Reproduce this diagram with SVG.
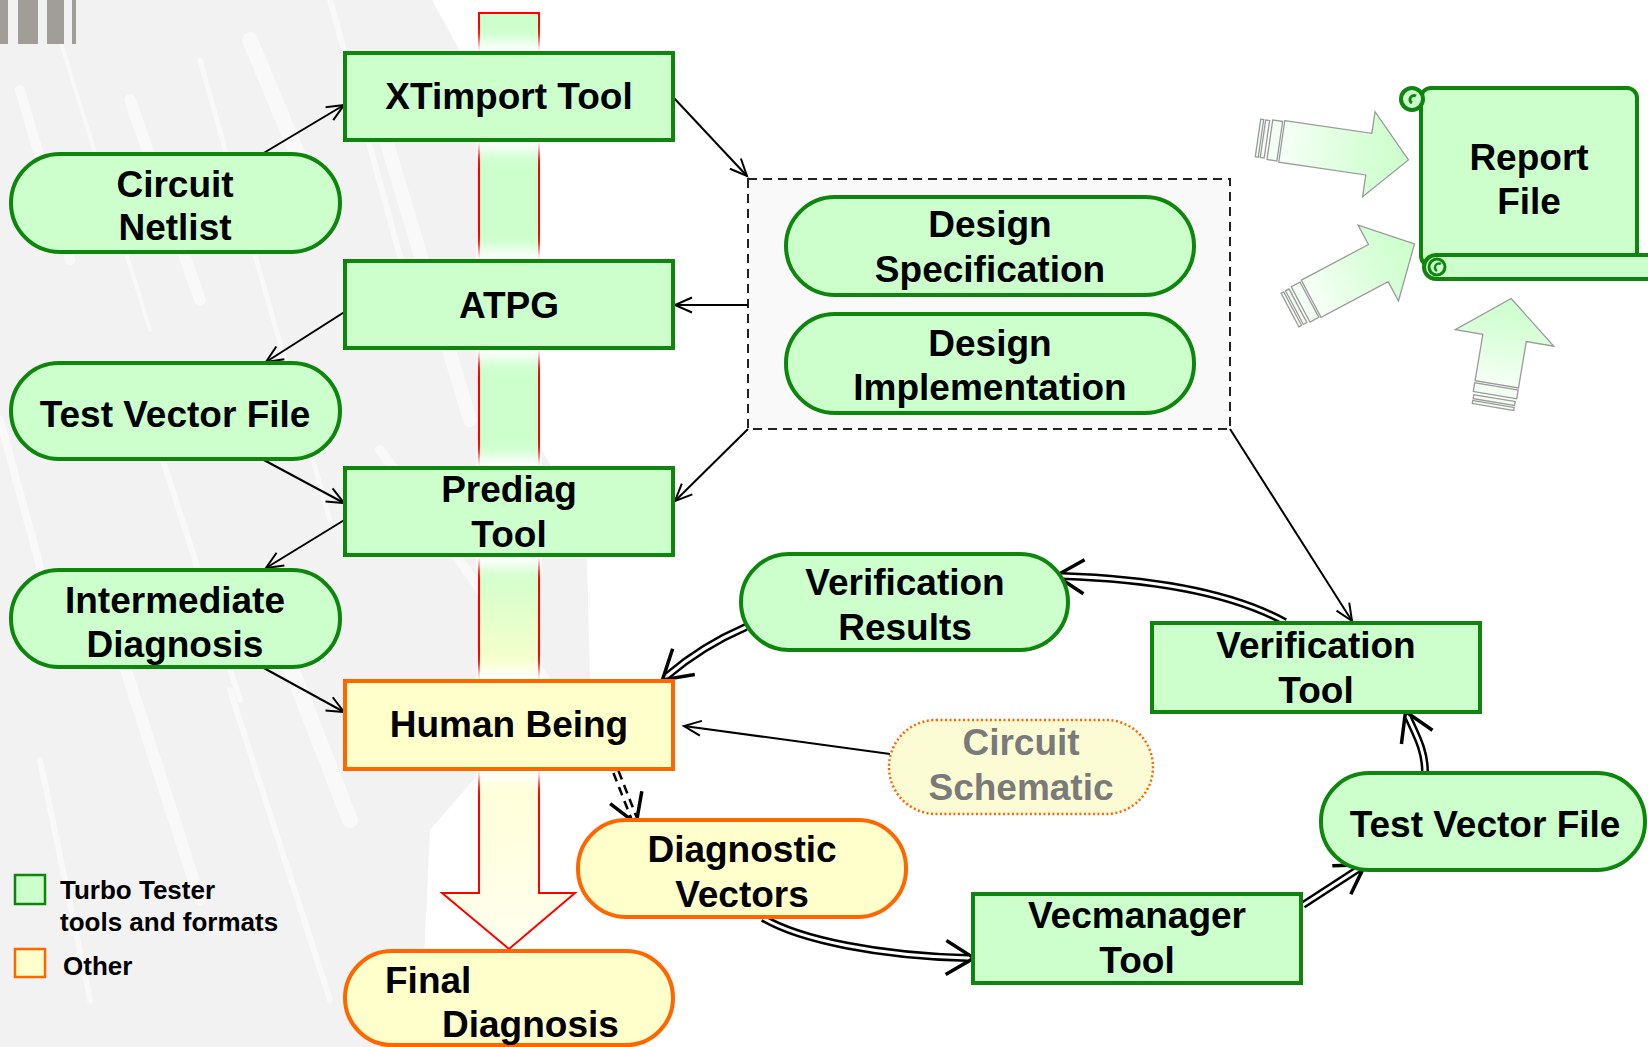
<svg xmlns="http://www.w3.org/2000/svg" width="1648" height="1047" viewBox="0 0 1648 1047">
  <defs>
    <style>
      .t{font-family:"Liberation Sans",Arial,sans-serif;font-weight:bold;font-size:37px;fill:#000;text-anchor:middle}
      .ts{text-anchor:start}
      .gray{fill:#7a7a7a}
      .g{fill:#ccffcc;stroke:#0e860e;stroke-width:4}
      .o{fill:#ffffcc;stroke:#ff6600;stroke-width:4}
      .ln{fill:none;stroke:#000;stroke-width:2}
      .dbl{fill:none;stroke:#000;stroke-width:8}
      .dblin{fill:none;stroke:#fff;stroke-width:3}
      .lg{font-family:"Liberation Sans",Arial,sans-serif;font-weight:bold;font-size:26px;fill:#000}
      .streak{stroke:#fff;fill:none;stroke-linecap:round;opacity:.5}
      .ba{stroke:#9a9a9a;stroke-width:1.3}
      .stripe{fill:#f2fff2}
      .halo{fill:#fff}
    </style>
    <marker id="ah" markerUnits="userSpaceOnUse" viewBox="-20 -10 24 20" refX="0" refY="0" markerWidth="24" markerHeight="20" orient="auto" overflow="visible">
      <path d="M-17,-7.5 L0,0 L-17,7.5" fill="none" stroke="#000" stroke-width="2"/>
    </marker>
    <marker id="ahd" markerUnits="userSpaceOnUse" viewBox="-30 -20 40 40" refX="0" refY="0" markerWidth="40" markerHeight="40" orient="auto" overflow="visible">
      <path d="M-22,-17 L6,0 L-22,17" fill="none" stroke="#000" stroke-width="3.5"/>
    </marker>
    <linearGradient id="bandGrad" gradientUnits="userSpaceOnUse" x1="0" y1="13" x2="0" y2="949">
      <stop offset="0" stop-color="#ccffcc"/>
      <stop offset="0.58" stop-color="#ccffcc"/>
      <stop offset="0.72" stop-color="#ffffcc"/>
      <stop offset="1" stop-color="#ffffee"/>
    </linearGradient>
    <linearGradient id="bag" x1="0" y1="0" x2="1" y2="0">
      <stop offset="0" stop-color="#f6fff6"/>
      <stop offset="0.6" stop-color="#d9ffd9"/>
      <stop offset="1" stop-color="#ccffcc"/>
    </linearGradient>
    <filter id="haloBlur" x="-5%" y="-60%" width="110%" height="220%">
      <feGaussianBlur stdDeviation="0 7"/>
    </filter>
  </defs>

  <!-- page background -->
  <rect x="0" y="0" width="1648" height="1047" fill="#fff"/>
  <polygon points="0,0 432,0 476,80 482,300 522,420 586,520 590,680 548,705 482,770 430,830 420,1047 0,1047" fill="#f2f2f2"/>
  <g id="texture">
    <line class="streak" x1="20" y1="90" x2="70" y2="260" stroke-width="10"/>
    <line class="streak" x1="60" y1="40" x2="150" y2="330" stroke-width="4"/>
    <line class="streak" x1="130" y1="100" x2="200" y2="300" stroke-width="12"/>
    <line class="streak" x1="200" y1="60" x2="330" y2="520" stroke-width="5"/>
    <line class="streak" x1="250" y1="40" x2="300" y2="160" stroke-width="16"/>
    <line class="streak" x1="330" y1="0" x2="420" y2="330" stroke-width="6"/>
    <line class="streak" x1="380" y1="120" x2="470" y2="420" stroke-width="14"/>
    <line class="streak" x1="0" y1="420" x2="60" y2="640" stroke-width="8"/>
    <line class="streak" x1="110" y1="620" x2="200" y2="900" stroke-width="12"/>
    <line class="streak" x1="230" y1="690" x2="330" y2="1000" stroke-width="6"/>
    <line class="streak" x1="280" y1="640" x2="350" y2="820" stroke-width="16"/>
    <line class="streak" x1="40" y1="760" x2="90" y2="1000" stroke-width="6"/>
    <line class="streak" x1="380" y1="450" x2="560" y2="700" stroke-width="10"/>
    <line class="streak" x1="150" y1="420" x2="240" y2="700" stroke-width="6"/>
  </g>

  <!-- corner bars -->
  <g id="corner-bars" fill="#a19d99">
    <rect x="0" y="0" width="8" height="44"/>
    <rect x="18" y="0" width="20" height="44"/>
    <rect x="47" y="0" width="17" height="44"/>
    <rect x="72" y="0" width="4" height="44"/>
  </g>

  <!-- process flow band -->
  <g id="flow-band">
    <path d="M479,13 H539 V893 H575 L509,949 L442,893 H479 Z" fill="url(#bandGrad)" stroke="#ff0000" stroke-width="2"/>
    <g filter="url(#haloBlur)">
      <rect class="halo" x="476" y="41" width="66" height="111"/>
      <rect class="halo" x="476" y="249" width="66" height="111"/>
      <rect class="halo" x="476" y="456" width="66" height="111"/>
      <rect class="halo" x="476" y="669" width="66" height="112"/>
    </g>
  </g>

  <!-- design data container -->
  <g id="design-group">
    <rect x="748" y="179" width="482" height="250" fill="#f9f9f9" stroke="#222" stroke-width="2" stroke-dasharray="9 6"/>
  </g>

  <!-- connectors -->
  <g id="connectors">
    <path class="ln" d="M262,154 L344,105" marker-end="url(#ah)"/>
    <path class="ln" d="M673,97 L747,176" marker-end="url(#ah)"/>
    <path class="ln" d="M748,305 L675,305" marker-end="url(#ah)"/>
    <path class="ln" d="M346,311 L266,362" marker-end="url(#ah)"/>
    <path class="ln" d="M262,459 L344,503" marker-end="url(#ah)"/>
    <path class="ln" d="M346,519 L266,568" marker-end="url(#ah)"/>
    <path class="ln" d="M262,667 L344,712" marker-end="url(#ah)"/>
    <path class="ln" d="M748,429 L675,501" marker-end="url(#ah)"/>
    <path class="ln" d="M1230,429 L1352,621" marker-end="url(#ah)"/>
    <path class="ln" d="M890,754 L684,726" marker-end="url(#ah)"/>

    <!-- double-line flows -->
    <path class="dbl" d="M1285,622 C1245,600 1180,580 1062,576" marker-end="url(#ahd)"/>
    <path class="dblin" d="M1285,622 C1245,600 1180,580 1062,576"/>
    <path class="dbl" d="M746,627 Q702,646 667,676" marker-end="url(#ahd)"/>
    <path class="dblin" d="M746,627 Q702,646 667,676"/>
    <path class="dbl" d="M763,918 C800,940 880,956 968,958" marker-end="url(#ahd)"/>
    <path class="dblin" d="M763,918 C800,940 880,956 968,958"/>
    <path class="dbl" d="M1303,905 L1360,868" marker-end="url(#ahd)"/>
    <path class="dblin" d="M1303,905 L1360,868"/>
    <path class="dbl" d="M1425,772 C1425,750 1416,735 1408,717" marker-end="url(#ahd)"/>
    <path class="dblin" d="M1425,772 C1425,750 1416,735 1408,717"/>
    <path class="dbl" d="M616,772 L634,818" stroke-width="7" stroke-dasharray="9 6" marker-end="url(#ahd)"/>
    <path class="dblin" d="M616,772 L634,818" stroke-width="2.5"/>
  </g>

  <!-- nodes -->
  <g id="xtimport-tool">
    <rect class="g" x="345" y="53" width="328" height="87"/>
    <text class="t" x="509" y="109">XTimport Tool</text>
  </g>
  <g id="circuit-netlist">
    <rect class="g" x="11" y="154" width="329" height="98" rx="49"/>
    <text class="t" x="175" y="197">Circuit</text>
    <text class="t" x="175" y="240">Netlist</text>
  </g>
  <g id="atpg">
    <rect class="g" x="345" y="261" width="328" height="87"/>
    <text class="t" x="509" y="318">ATPG</text>
  </g>
  <g id="test-vector-file-left">
    <rect class="g" x="11" y="363" width="329" height="96" rx="48"/>
    <text class="t" x="175" y="427">Test Vector File</text>
  </g>
  <g id="prediag-tool">
    <rect class="g" x="345" y="468" width="328" height="87"/>
    <text class="t" x="509" y="502">Prediag</text>
    <text class="t" x="509" y="547">Tool</text>
  </g>
  <g id="intermediate-diagnosis">
    <rect class="g" x="11" y="570" width="329" height="97" rx="48"/>
    <text class="t" x="175" y="613">Intermediate</text>
    <text class="t" x="175" y="657">Diagnosis</text>
  </g>
  <g id="human-being">
    <rect class="o" x="345" y="681" width="328" height="88"/>
    <text class="t" x="509" y="737">Human Being</text>
  </g>
  <g id="final-diagnosis">
    <rect class="o" x="345" y="951" width="328" height="94" rx="47"/>
    <text class="t ts" x="385" y="993">Final</text>
    <text class="t ts" x="442" y="1037">Diagnosis</text>
  </g>
  <g id="design-specification">
    <rect class="g" x="786" y="197" width="408" height="98" rx="49"/>
    <text class="t" x="990" y="237">Design</text>
    <text class="t" x="990" y="282">Specification</text>
  </g>
  <g id="design-implementation">
    <rect class="g" x="786" y="314" width="408" height="99" rx="49"/>
    <text class="t" x="990" y="356">Design</text>
    <text class="t" x="990" y="400">Implementation</text>
  </g>
  <g id="verification-results">
    <rect class="g" x="741" y="554" width="327" height="96" rx="48"/>
    <text class="t" x="905" y="595">Verification</text>
    <text class="t" x="905" y="640">Results</text>
  </g>
  <g id="verification-tool">
    <rect class="g" x="1152" y="623" width="328" height="89"/>
    <text class="t" x="1316" y="658">Verification</text>
    <text class="t" x="1316" y="703">Tool</text>
  </g>
  <g id="circuit-schematic">
    <rect x="889" y="720" width="264" height="94" rx="47" fill="#fcfcd4" stroke="#ff6600" stroke-width="2.5" stroke-dasharray="2 2.5"/>
    <text class="t gray" x="1021" y="755">Circuit</text>
    <text class="t gray" x="1021" y="800">Schematic</text>
  </g>
  <g id="test-vector-file-right">
    <rect class="g" x="1321" y="773" width="324" height="97" rx="48"/>
    <text class="t" x="1485" y="837">Test Vector File</text>
  </g>
  <g id="vecmanager-tool">
    <rect class="g" x="973" y="894" width="328" height="89"/>
    <text class="t" x="1137" y="928">Vecmanager</text>
    <text class="t" x="1137" y="973">Tool</text>
  </g>
  <g id="diagnostic-vectors">
    <rect class="o" x="578" y="820" width="328" height="97" rx="48"/>
    <text class="t" x="742" y="862">Diagnostic</text>
    <text class="t" x="742" y="907">Vectors</text>
  </g>

  <!-- report scroll with incoming block arrows -->
  <g id="report-arrows">
    <g transform="translate(1258,138) rotate(8.3)">
      <rect class="stripe ba" x="0" y="-19" width="3" height="38"/>
      <rect class="stripe ba" x="5" y="-19" width="4" height="38"/>
      <rect class="stripe ba" x="12" y="-20" width="10" height="40"/>
      <path class="ba" fill="url(#bag)" d="M24,-21 L112,-21 L112,-43 L152,0 L112,43 L112,21 L24,21 Z"/>
    </g>
    <g transform="translate(1290,310) rotate(-28)">
      <rect class="stripe ba" x="0" y="-19" width="3" height="38"/>
      <rect class="stripe ba" x="5" y="-19" width="4" height="38"/>
      <rect class="stripe ba" x="12" y="-20" width="10" height="40"/>
      <path class="ba" fill="url(#bag)" d="M24,-21 L100,-21 L100,-43 L141,0 L100,43 L100,21 L24,21 Z"/>
    </g>
    <g transform="translate(1493,407) rotate(-80.5)">
      <rect class="stripe ba" x="0" y="-21" width="3" height="42"/>
      <rect class="stripe ba" x="5" y="-21" width="4" height="42"/>
      <rect class="stripe ba" x="12" y="-22" width="9" height="44"/>
      <path class="ba" fill="url(#bag)" d="M23,-22 L70,-22 L70,-50 L110,0 L70,50 L70,22 L23,22 Z"/>
    </g>
  </g>
  <g id="report-file">
    <rect class="g" x="1421" y="88" width="216" height="178" rx="10"/>
    <circle class="g" cx="1412" cy="99" r="11"/>
    <path d="M1416,96 A4,4 0 1 0 1412,103" fill="none" stroke="#0e860e" stroke-width="3"/>
    <rect class="g" x="1424" y="255" width="240" height="24" rx="12"/>
    <circle cx="1437" cy="267" r="8" fill="#ccffcc" stroke="#0e860e" stroke-width="3"/>
    <path d="M1441,264 A4,4 0 1 0 1437,271" fill="none" stroke="#0e860e" stroke-width="2.5"/>
    <text class="t" x="1529" y="170">Report</text>
    <text class="t" x="1529" y="214">File</text>
  </g>

  <!-- legend -->
  <g id="legend">
    <rect x="15" y="875" width="30" height="29" fill="#ccffcc" stroke="#0e860e" stroke-width="2.5"/>
    <text class="lg" x="60" y="899">Turbo Tester</text>
    <text class="lg" x="60" y="931">tools and formats</text>
    <rect x="15" y="949" width="30" height="28" fill="#ffffcc" stroke="#ff6600" stroke-width="2.5"/>
    <text class="lg" x="63" y="975">Other</text>
  </g>
</svg>
